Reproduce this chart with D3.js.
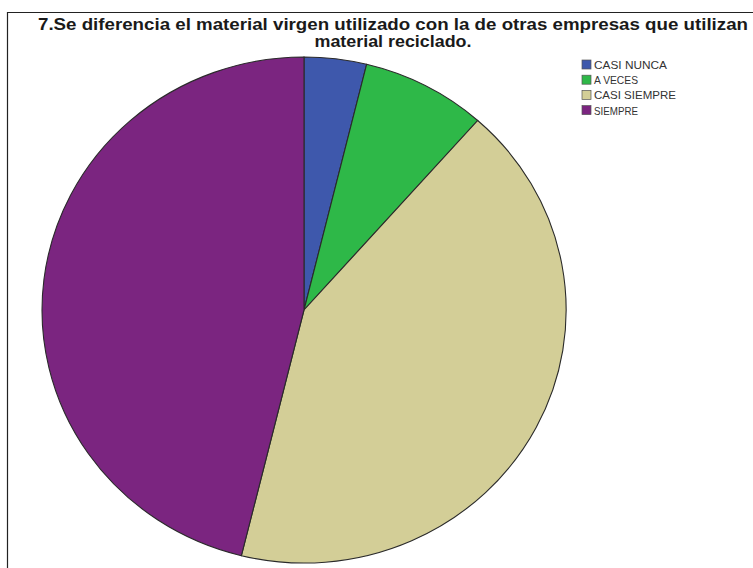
<!DOCTYPE html>
<html>
<head>
<meta charset="utf-8">
<script src="https://cdn.jsdelivr.net/npm/d3@7"></script>
<style>
  html, body { margin: 0; padding: 0; background: #fff; }
  svg { display: block; }
</style>
</head>
<body>
<svg id="chart" width="753" height="568"></svg>
<script>
// Response counts per answer category
const categories = ["CASI NUNCA", "A VECES", "CASI SIEMPRE", "SIEMPRE"];
const counts = [1, 2, 11, 12];
const colors = ["#3e58ac", "#2eb848", "#d3ce97", "#7b2580"];
const titleLines = [
  "7.Se diferencia el material virgen utilizado con la de otras empresas que utilizan",
  "material reciclado."
];

const svg = d3.select("#chart");
const W = 753, H = 568;

// Outer frame (left and top edges visible)
svg.append("path")
  .attr("d", `M7.5,${H} L7.5,12.5 L${W},12.5`)
  .attr("fill", "none")
  .attr("stroke", "#222")
  .attr("stroke-width", 1.2);

// Title
const title = svg.append("g").attr("font-family", "Arial, 'Liberation Sans', sans-serif")
  .attr("font-weight", "bold").attr("font-size", 16).attr("fill", "#1a1a1a");
title.append("text").attr("x", 393).attr("y", 30).attr("text-anchor", "middle")
  .attr("textLength", 710).attr("lengthAdjust", "spacingAndGlyphs").text(titleLines[0]);
title.append("text").attr("x", 393).attr("y", 47).attr("text-anchor", "middle")
  .attr("textLength", 157).attr("lengthAdjust", "spacingAndGlyphs").text(titleLines[1]);

// Pie, drawn on a unit circle and stretched to the plot ellipse
const cx = 304, cy = 310, rx = 262, ry = 253;
const pie = d3.pie().sort(null).value(d => d)(counts);
const arc = d3.arc().innerRadius(0).outerRadius(1);

const g = svg.append("g").attr("transform", `translate(${cx},${cy}) scale(${rx},${ry})`);
g.selectAll("path.slice")
  .data(pie)
  .join("path")
  .attr("class", "slice")
  .attr("d", arc)
  .attr("fill", (d, i) => colors[i])
  .attr("stroke", "#2a2a2a")
  .attr("stroke-width", 1.1)
  .attr("vector-effect", "non-scaling-stroke");

// Legend
const legend = svg.append("g").attr("transform", "translate(582,60)");
const items = legend.selectAll("g.item")
  .data(categories)
  .join("g")
  .attr("class", "item")
  .attr("transform", (d, i) => `translate(0,${i * 15.2})`);
items.append("rect")
  .attr("x", 0).attr("y", 0).attr("width", 9).attr("height", 9)
  .attr("fill", (d, i) => colors[i])
  .attr("stroke", "#555").attr("stroke-width", 0.7);
const legendWidths = [73, 44, 82, 44];
items.append("text")
  .attr("x", 12).attr("y", 9)
  .attr("font-family", "Arial, 'Liberation Sans', sans-serif")
  .attr("font-size", 10.5).attr("fill", "#333")
  .attr("textLength", (d, i) => legendWidths[i])
  .attr("lengthAdjust", "spacingAndGlyphs")
  .text(d => d);
</script>
</body>
</html>
